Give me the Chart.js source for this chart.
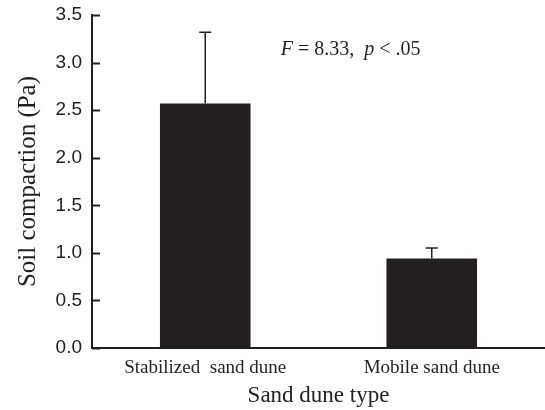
<!DOCTYPE html>
<html>
<head>
<meta charset="utf-8">
<script src="https://cdn.jsdelivr.net/npm/chart.js@4"></script>
<style>
  html, body { margin: 0; padding: 0; background: #fff; }
  #box { width: 545px; height: 410px; }
</style>
</head>
<body>
<div id="box"><canvas id="chart" width="545" height="410"></canvas></div>
<script>
// data
const categories = ['Stabilized  sand dune', 'Mobile sand dune'];
const compaction = [2.57, 0.94];
const errorPlus = [0.75, 0.11];
const yTicks = [0, 0.5, 1.0, 1.5, 2.0, 2.5, 3.0, 3.5];

const ink = '#231f20';
const serif = '"Liberation Serif", "Times New Roman", serif';
const sans = '"Liberation Sans", Arial, sans-serif';

// inward tick marks on the y axis + error bars + F/p note
const extras = {
  id: 'extras',
  afterDatasetsDraw(chart) {
    const ctx = chart.ctx;
    const y = chart.scales.y;
    const x = chart.scales.x;
    ctx.save();
    ctx.strokeStyle = ink;
    ctx.lineWidth = 1.5;
    // error bars
    chart.getDatasetMeta(0).data.forEach((bar, i) => {
      const yTop = y.getPixelForValue(compaction[i]);
      const yErr = y.getPixelForValue(compaction[i] + errorPlus[i]);
      ctx.beginPath();
      ctx.moveTo(bar.x, yTop);
      ctx.lineTo(bar.x, yErr);
      ctx.moveTo(bar.x - 6, yErr);
      ctx.lineTo(bar.x + 6, yErr);
      ctx.stroke();
    });
    // tick marks pointing into the plot
    ctx.lineWidth = 2;
    yTicks.forEach(v => {
      const py = Math.round(y.getPixelForValue(v)) + 0.5;
      ctx.beginPath();
      ctx.moveTo(chart.chartArea.left, py);
      ctx.lineTo(chart.chartArea.left + 8, py);
      ctx.stroke();
    });
    // statistics note
    let tx = x.getPixelForValue(0.333);
    const ty = y.getPixelForValue(3.13);
    ctx.fillStyle = ink;
    ctx.textBaseline = 'middle';
    const parts = [
      ['italic 20px ' + serif, 'F'],
      ['20px ' + serif, ' = 8.33,  '],
      ['italic 20px ' + serif, 'p'],
      ['20px ' + serif, ' < .05']
    ];
    parts.forEach(([f, t]) => {
      ctx.font = f;
      ctx.fillText(t, tx, ty);
      tx += ctx.measureText(t).width;
    });
    ctx.restore();
  }
};

new Chart(document.getElementById('chart'), {
  type: 'bar',
  data: {
    labels: categories,
    datasets: [{
      data: compaction,
      backgroundColor: ink,
      borderWidth: 0,
      barPercentage: 0.4,
      categoryPercentage: 1.0
    }]
  },
  options: {
    responsive: false,
    animation: false,
    layout: { padding: { top: 15, right: 0, left: 0, bottom: 0 } },
    plugins: { legend: { display: false }, tooltip: { enabled: false } },
    scales: {
      x: {
        grid: { display: false, drawTicks: false },
        border: { display: true, color: ink, width: 2 },
        ticks: { color: ink, font: { family: serif, size: 19 }, padding: 9, maxRotation: 0 },
        title: { display: true, text: 'Sand dune type', color: ink, font: { family: serif, size: 23 }, padding: { top: 4, bottom: 0 } },
        afterFit: s => { s.height = 62; }
      },
      y: {
        min: 0,
        max: 3.5,
        grid: { display: false, drawTicks: false },
        border: { display: true, color: ink, width: 2 },
        ticks: {
          stepSize: 0.5,
          color: ink,
          padding: 10,
          font: { family: sans, size: 19 },
          callback: v => v.toFixed(1)
        },
        title: { display: true, text: 'Soil compaction (Pa)', color: ink, font: { family: serif, size: 25 }, padding: { top: 13, bottom: 0 } },
        afterFit: s => { s.width = 92; s.paddingTop = 0; s.paddingBottom = 0; }
      }
    }
  },
  plugins: [extras]
});
</script>
</body>
</html>
